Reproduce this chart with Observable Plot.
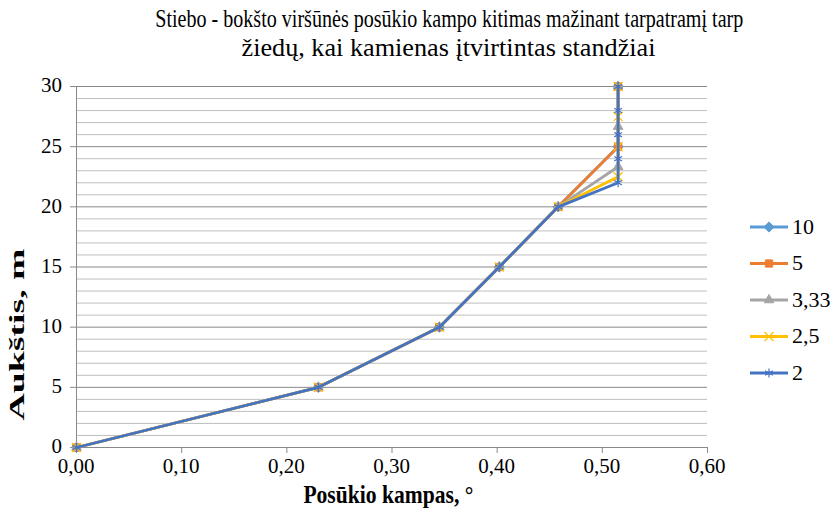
<!DOCTYPE html>
<html>
<head>
<meta charset="utf-8">
<script src="https://cdn.jsdelivr.net/npm/d3@7"></script>
<script src="https://cdn.jsdelivr.net/npm/@observablehq/plot@0.6"></script>
<style>
  html, body { margin: 0; padding: 0; background: #fff; }
  #chart { position: relative; width: 831px; height: 513px; overflow: hidden; }
  #chart svg { position: absolute; left: 0; top: 0; }
</style>
</head>
<body>
<div id="chart"></div>
<script>
// ---- data ----
const titleLines = [
  "Stiebo - bokšto viršūnės posūkio kampo kitimas mažinant tarpatramį tarp",
  "žiedų, kai kamienas įtvirtintas standžiai"
];
const xLabel = "Posūkio kampas, °";
const yLabel = "Aukštis, m";
const xTicks = [0, 0.1, 0.2, 0.3, 0.4, 0.5, 0.6];
const yTicks = [0, 5, 10, 15, 20, 25, 30];
const yMinor = d3.range(0, 31, 1);

const seriesNames = ["10", "5", "3,33", "2,5", "2"];
const seriesColors = ["#5B9BD5", "#ED7D31", "#A5A5A5", "#FFC000", "#4472C4"];
const seriesSymbols = ["diamond2", "square2", "triangle2", "times", "asterisk"];

const h10 = [0, 5, 10, 15, 20, 25, 30];
const a10 = [0, 0.23, 0.345, 0.402, 0.458, 0.515, 0.515];
const h5 = [0, 5, 10, 15, 20, 25, 30];
const a5 = [0, 0.23, 0.345, 0.402, 0.458, 0.515, 0.515];
const h333 = [0, 5, 10, 15, 20, 23.33, 26.67, 30];
const a333 = [0, 0.23, 0.345, 0.402, 0.458, 0.515, 0.515, 0.515];
const h25 = [0, 5, 10, 15, 20, 22.5, 25, 27.5, 30];
const a25 = [0, 0.23, 0.345, 0.402, 0.458, 0.515, 0.515, 0.515, 0.515];
const h2 = [0, 5, 10, 15, 20, 22, 24, 26, 28, 30];
const a2 = [0, 0.23, 0.345, 0.402, 0.458, 0.515, 0.515, 0.515, 0.515, 0.515];

const seriesH = [h10, h5, h333, h25, h2];
const seriesA = [a10, a5, a333, a25, a2];

// ---- build ----
const FONT = "Liberation Serif";
const fmt = d => d.toFixed(2).replace(".", ",");

const seriesMarks = [];
seriesNames.forEach((name, i) => {
  const data = seriesH[i].map((h, j) => ({h, a: seriesA[i][j]}));
  seriesMarks.push(Plot.line(data, {x: "a", y: "h", stroke: seriesColors[i], strokeWidth: 2.8, curve: "linear"}));
  const sym = seriesSymbols[i];
  const filled = sym !== "times" && sym !== "asterisk";
  seriesMarks.push(Plot.dot(data, {
    x: "a", y: "h", symbol: () => sym, r: filled ? 4.6 : 4.2,
    fill: filled ? seriesColors[i] : "none",
    stroke: seriesColors[i], strokeWidth: filled ? 1 : 1.2
  }));
});

const chart = Plot.plot({
  width: 831,
  height: 513,
  marginLeft: 76,
  marginRight: 124,
  marginTop: 86,
  marginBottom: 66,
  style: {fontFamily: FONT, fontSize: "21px", color: "#000", background: "#fff"},
  x: {domain: [0, 0.6], label: null, axis: null},
  y: {domain: [0, 30], label: null, axis: null},
  symbol: {type: "identity"},
  marks: [
    Plot.ruleY(yMinor.filter(d => d % 5 !== 0), {stroke: "#bfbfbf", strokeWidth: 1}),
    Plot.ruleY(yTicks, {stroke: "#898989", strokeWidth: 1}),
    Plot.ruleX([0], {stroke: "#898989", strokeWidth: 1}),
    // tick marks outside the frame (x: 6px down, y: 6px left)
    Plot.ruleX(xTicks, {y1: 0, y2: -0.5, stroke: "#898989", strokeWidth: 1}),
    Plot.ruleY(yTicks, {x1: 0, x2: -0.0057, stroke: "#898989", strokeWidth: 1}),
    ...seriesMarks
  ]
});

const root = document.getElementById("chart");
root.appendChild(chart);
const svg = d3.select(chart);
const sx = chart.scale("x"), sy = chart.scale("y");

// HTML text helper (x,y = anchor point on the baseline; for rotated text, the centre)
function htmlText(str, {x, y, size, anchor = "start", bold = false, width = null, rotate = false}) {
  const d = document.createElement("div");
  d.textContent = str;
  Object.assign(d.style, {
    position: "absolute", left: "0px", top: "0px",
    fontFamily: FONT, fontSize: size + "px", lineHeight: size + "px",
    whiteSpace: "nowrap", color: "#000", fontWeight: bold ? "bold" : "normal"
  });
  root.appendChild(d);
  const w = d.getBoundingClientRect().width;
  const s = width ? width / w : 1;
  if (!rotate) {
    const left = anchor === "middle" ? x - w / 2 : anchor === "end" ? x - w : x;
    d.style.left = left + "px";
    d.style.top = (y - 0.8375 * size) + "px";
    if (width) {
      d.style.transformOrigin = "50% 50%";
      d.style.transform = `scaleX(${s})`;
    }
  } else {
    d.style.left = (x - w / 2) + "px";
    d.style.top = (y - size / 2) + "px";
    d.style.transformOrigin = "50% 50%";
    d.style.transform = `rotate(-90deg) scaleX(${s})`;
  }
  return d;
}

// title
const titleLen = [588, 414];
titleLines.forEach((t, i) => htmlText(t, {x: 449, y: 27 + i * 29, size: 25, anchor: "middle", width: titleLen[i]}));

// tick labels, placed with the chart's scales
xTicks.forEach(v => htmlText(fmt(v), {x: sx.apply(v), y: 474, size: 21, anchor: "middle"}));
yTicks.forEach(v => htmlText(String(v), {x: 62, y: sy.apply(v) + 7, size: 21, anchor: "end"}));

// axis titles
htmlText(xLabel, {x: 388, y: 504, size: 26, anchor: "middle", bold: true, width: 170});
htmlText(yLabel, {x: 18, y: 334, size: 21, bold: true, width: 172, rotate: true});

// legend
const symMap = {diamond2: d3.symbolDiamond2, square2: d3.symbolSquare2, triangle2: d3.symbolTriangle2, times: d3.symbolTimes, asterisk: d3.symbolAsterisk};
seriesNames.forEach((name, i) => {
  const y = 227 + i * 36.5;
  const g = svg.append("g");
  g.append("line").attr("x1", 750).attr("x2", 788).attr("y1", y).attr("y2", y)
    .attr("stroke", seriesColors[i]).attr("stroke-width", 2.8);
  const sym = seriesSymbols[i];
  const filled = sym !== "times" && sym !== "asterisk";
  g.append("path").attr("transform", `translate(769,${y})`)
    .attr("d", d3.symbol(symMap[sym], (filled ? 4.6 : 4.2) ** 2 * Math.PI)())
    .attr("fill", filled ? seriesColors[i] : "none")
    .attr("stroke", seriesColors[i]).attr("stroke-width", filled ? 1 : 1.2);
  htmlText(name, {x: 792, y: y + 7, size: 22});
});
</script>
</body>
</html>
